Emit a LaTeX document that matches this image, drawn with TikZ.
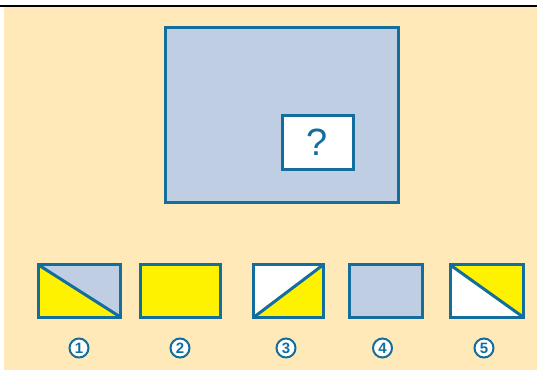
\documentclass[tikz,border=0pt]{standalone}
\usepackage{fontspec}
\setsansfont{Liberation Sans}
\definecolor{edge}{HTML}{136E9E}
\definecolor{slate}{HTML}{BFCEE3}
\definecolor{lemon}{HTML}{FFF200}
\definecolor{sand}{HTML}{FFE9B8}
\tikzset{
  card/.style={draw=edge, line width=3pt, rectangle, inner sep=0pt},
  numlabel/.style={circle, draw=edge, line width=2pt, fill=white, minimum size=19pt,
    inner sep=0pt, text=edge, font=\sffamily\bfseries\fontsize{15}{15}\selectfont}
}
\begin{document}
\begin{tikzpicture}[x=1pt, y=-1pt]
        \useasboundingbox (0, 0) rectangle (537, 370);
        \fill[sand] (4, 7) rectangle (537, 370);
        \draw[line width=2.5pt] (0, 6) -- (537, 6);

        % main picture with the missing part
        \node[card, fill=slate, minimum width=233pt, minimum height=175pt] (main) at (281.5, 114.5) {};
        \node[card, fill=white, minimum width=71pt, minimum height=54pt,
              text=edge, font=\sffamily\fontsize{38}{38}\selectfont] (ask) at (317.5, 142) {?};

        % the five choices
        \path node[minimum width=82pt, minimum height=52pt] (c1) at (79.5, 291) {};
        \path node[minimum width=79pt, minimum height=52pt] (c2) at (180.5, 291) {};
        \path node[minimum width=69pt, minimum height=52pt] (c3) at (288.5, 291) {};
        \path node[minimum width=73pt, minimum height=52pt] (c4) at (386, 291) {};
        \path node[minimum width=73pt, minimum height=52pt] (c5) at (486.7, 291) {};

        \fill[slate] (c1.north west) -- (c1.north east) -- (c1.south east) -- cycle;
        \fill[lemon] (c1.north west) -- (c1.south west) -- (c1.south east) -- cycle;
        \fill[lemon] (c2.north west) rectangle (c2.south east);
        \fill[white] (c3.north west) -- (c3.north east) -- (c3.south west) -- cycle;
        \fill[lemon] (c3.north east) -- (c3.south east) -- (c3.south west) -- cycle;
        \fill[slate] (c4.north west) rectangle (c4.south east);
        \fill[white] (c5.north west) -- (c5.south west) -- (c5.south east) -- cycle;
        \fill[lemon] (c5.north west) -- (c5.north east) -- (c5.south east) -- cycle;

        \foreach \c in {c1, c2, c3, c4, c5}
            \draw[edge, line width=3pt] (\c.north west) rectangle (\c.south east);
        \draw[edge, line width=3pt] (c1.north west) -- (c1.south east);
        \draw[edge, line width=3pt] (c3.south west) -- (c3.north east);
        \draw[edge, line width=3pt] (c5.north west) -- (c5.south east);

        % numbers under the choices
        \node[numlabel] (n1) at (79, 348) {1};
        \node[numlabel] (n2) at (180, 348) {2};
        \node[numlabel] (n3) at (286, 348) {3};
        \node[numlabel] (n4) at (382.5, 348) {4};
        \node[numlabel] (n5) at (484, 348) {5};
\end{tikzpicture}
\end{document}
